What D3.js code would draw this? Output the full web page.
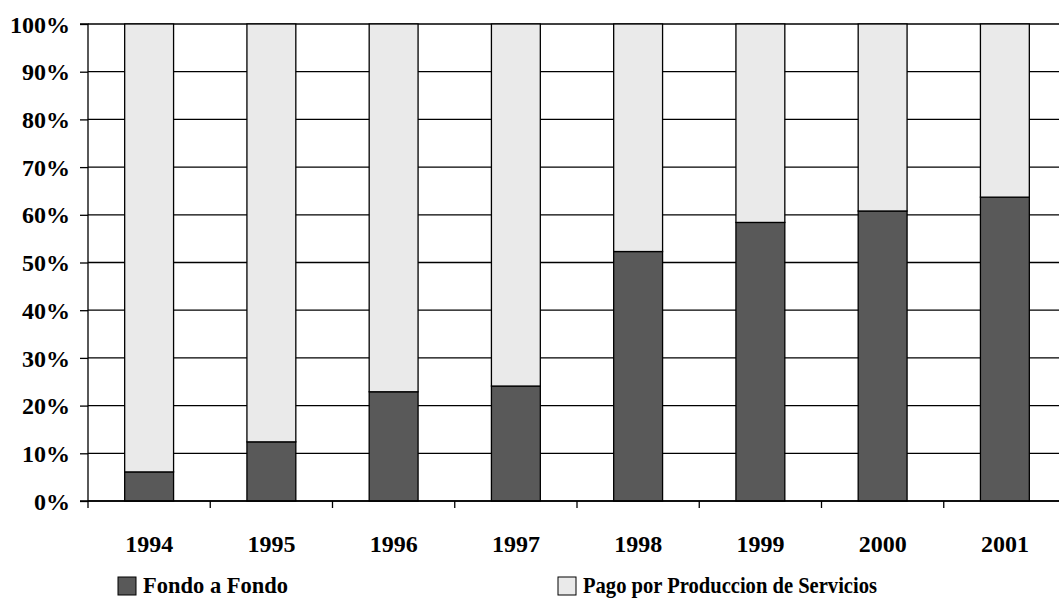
<!DOCTYPE html>
<html><head><meta charset="utf-8">
<script src="https://cdn.jsdelivr.net/npm/d3@7"></script>
<style>body{margin:0;background:#fff}svg{display:block}text{font-family:"Liberation Serif","Times New Roman",serif;font-weight:bold;fill:#000}</style>
</head><body><svg id="c" width="1059" height="599"></svg>
<script>
const years = ["1994","1995","1996","1997","1998","1999","2000","2001"];
const fondo = [6.1, 12.4, 22.9, 24.1, 52.3, 58.4, 60.8, 63.7];
const pago = fondo.map(v => 100 - v);
const seriesNames = ["Fondo a Fondo","Pago por Produccion de Servicios"];
const colors = ["#595959","#eaeaea"];
const yTicks = [0,10,20,30,40,50,60,70,80,90,100];

const svg = d3.select("#c");
const m = {l:88, t:24, r:1066, b:501};
const x = d3.scaleBand().domain(years).range([m.l, m.r]).paddingInner(0.6).paddingOuter(0.3);
const y = d3.scaleLinear().domain([0,100]).range([m.b, m.t]);

svg.append("g").selectAll("line").data(yTicks).join("line")
  .attr("x1", m.l).attr("x2", 1059).attr("y1", d=>y(d)).attr("y2", d=>y(d))
  .attr("stroke","#000").attr("stroke-width",1.3);

const data = years.map((yr,i)=>({yr, f:fondo[i], p:pago[i]}));
const stack = d3.stack().keys(["f","p"])(data);
svg.append("g").selectAll("g").data(stack).join("g")
  .attr("fill",(d,i)=>colors[i])
  .selectAll("rect").data(d=>d).join("rect")
  .attr("x", d=>x(d.data.yr)).attr("width", x.bandwidth())
  .attr("y", d=>y(d[1])).attr("height", d=>y(d[0])-y(d[1]))
  .attr("stroke","#000").attr("stroke-width",1.3);

const ya = svg.append("g").attr("transform",`translate(${m.l},0)`)
  .call(d3.axisLeft(y).tickValues(yTicks).tickFormat(d=>d+"%").tickSize(8).tickPadding(10));
ya.select(".domain").attr("stroke","#000").attr("stroke-width",1.3).attr("d",`M-8,${m.t}H0V${m.b}H-8`);
ya.selectAll("line").attr("stroke-width",1.3);
ya.selectAll("text").attr("font-size","24px").attr("font-family",'"Liberation Serif",serif').attr("font-weight","bold").attr("dy","0.34em");

const xa = svg.append("g");
xa.append("line").attr("x1",m.l).attr("x2",1059).attr("y1",m.b).attr("y2",m.b).attr("stroke","#000").attr("stroke-width",1.3);
const step = x.step();
const bounds = years.map((yr,i)=> x(yr) + x.bandwidth()/2 - step/2);
xa.selectAll(".tk").data(bounds).join("line").attr("class","tk")
  .attr("x1",d=>d).attr("x2",d=>d).attr("y1",m.b).attr("y2",m.b+7).attr("stroke","#000").attr("stroke-width",1.3);
xa.selectAll("text").data(years).join("text")
  .attr("x",d=>x(d)+x.bandwidth()/2).attr("y",552).attr("text-anchor","middle")
  .attr("font-size","24px").text(d=>d);

const lg = [{x:118, name:seriesNames[0], c:colors[0], w:145},{x:558, name:seriesNames[1], c:colors[1], w:294}];
const L = svg.append("g").selectAll("g").data(lg).join("g").attr("transform",d=>`translate(${d.x},577)`);
L.append("rect").attr("width",18).attr("height",18).attr("fill",d=>d.c).attr("stroke","#000").attr("stroke-width",1);
L.append("text").attr("x",25).attr("y",16).attr("font-size","23px")
  .attr("textLength",d=>d.w).attr("lengthAdjust","spacingAndGlyphs").text(d=>d.name);
</script></body></html>
